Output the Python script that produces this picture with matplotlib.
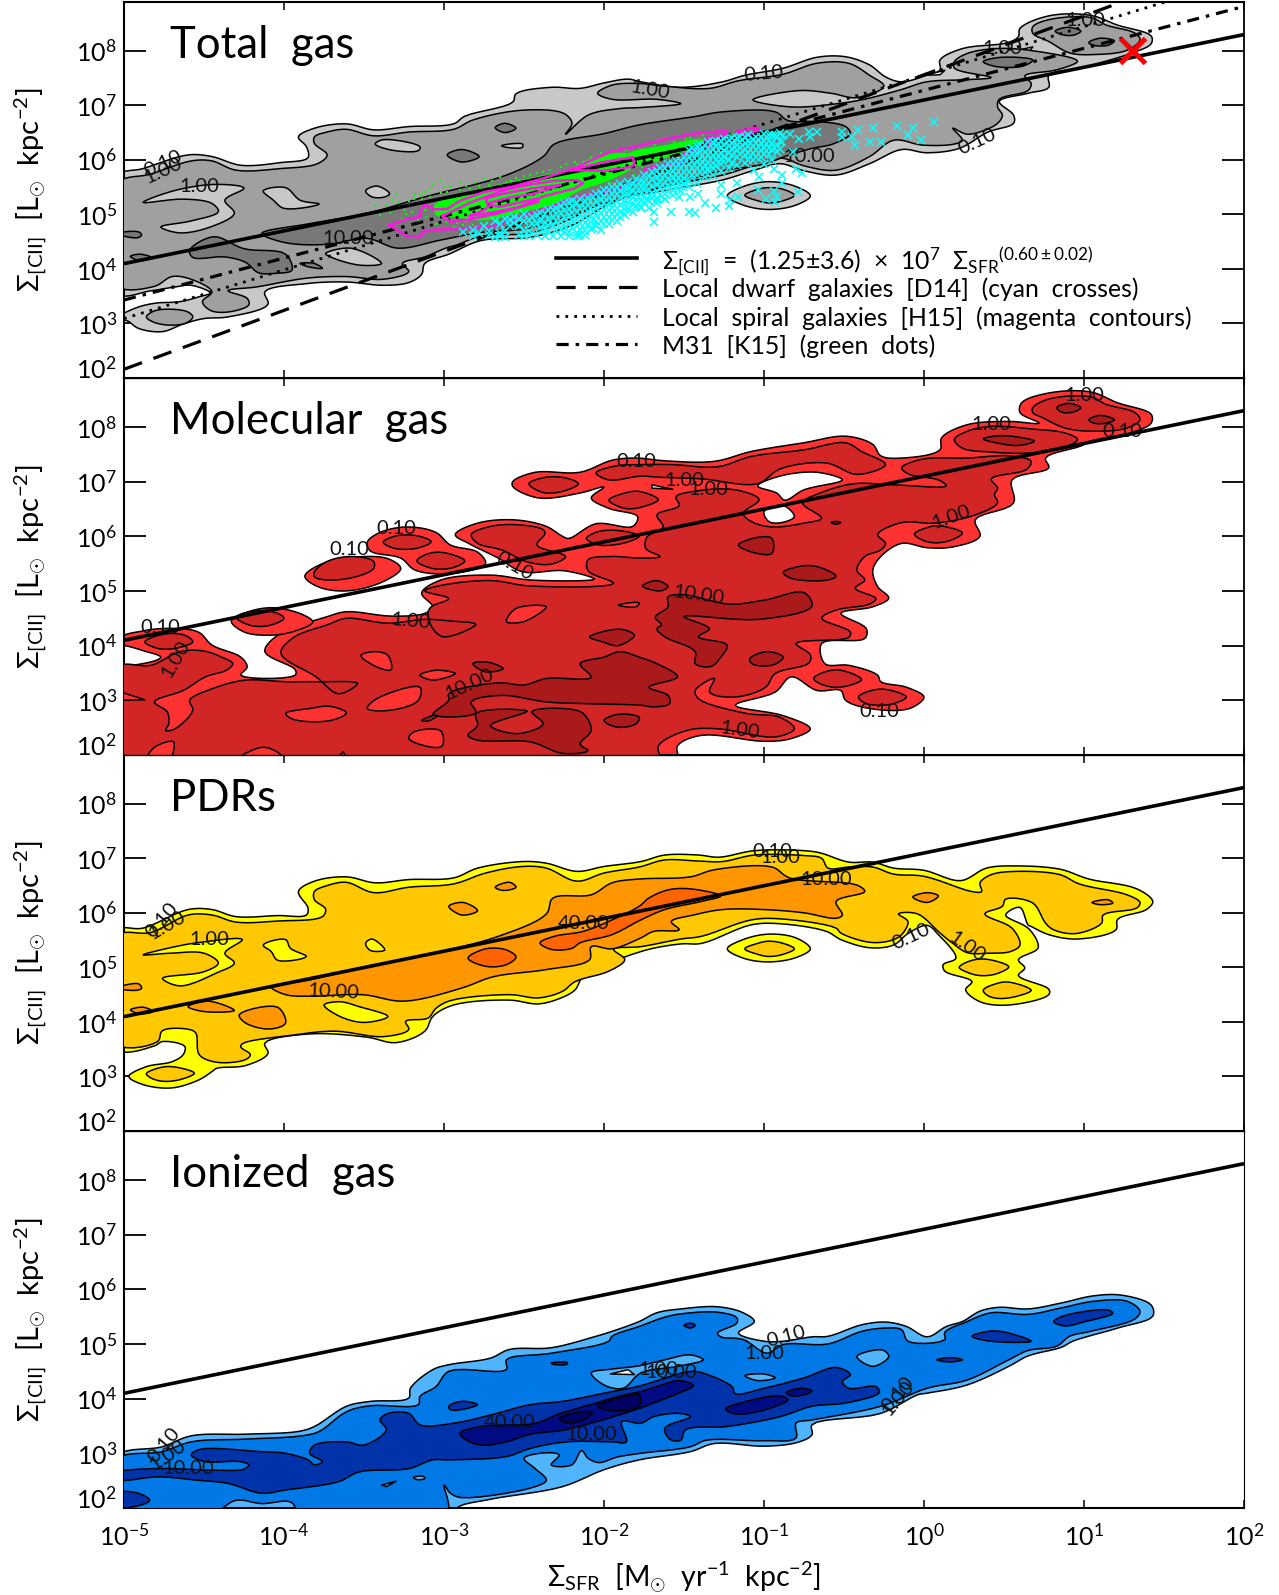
import numpy as np
import matplotlib
matplotlib.use('Agg')
import matplotlib.pyplot as plt

plt.rcParams['font.family'] = ['Lato', 'DejaVu Sans']
plt.rcParams['mathtext.fontset'] = 'custom'
plt.rcParams['mathtext.rm'] = 'Lato'
plt.rcParams['mathtext.it'] = 'Lato'
plt.rcParams['mathtext.bf'] = 'Lato'
plt.rcParams['mathtext.default'] = 'rm'

# ---------- shared values ----------
XLIM_LOG = (-5, 2)
YLIM_LOG = (2.0, 8.894)
X_DECADES = [-5, -4, -3, -2, -1, 0, 1, 2]
Y_DECADES = [3, 4, 5, 6, 7, 8]
FIT_NORM_LOG = 7.097
FIT_SLOPE = 0.60
DWARF = (2.16, 1.08)    # value at 1e-5, slope
SPIRAL = (3.09, 0.892)
M31 = (3.43, 0.769)
RED_CROSS = (1.30, 8.01)

TOTAL_COLORS = ['#c8c8c8', '#a0a0a0', '#787878']
MOL_COLORS = ['#ff3232', '#d22626', '#aa1a1a']
PDR_COLORS = ['#ffff00', '#ffc800', '#ff9600', '#ff6400']
ION_COLORS = ['#50b4ff', '#0078e6', '#0032aa', '#000a82', '#000064']

# ---------- Total gas contours: log10 SFR, log10 CII ----------
TOTAL_L0 = [
 [(-5.05,5.69),(-4.88,5.84),(-4.6,6.09),(-4.45,6.06),(-4.27,5.9),(-4.02,5.95),(-3.85,6.04),(-3.86,6.24),(-3.91,6.42),(-3.81,6.58),(-3.61,6.66),(-3.44,6.55),(-3.22,6.61),(-2.94,6.66),(-2.87,6.8),(-2.57,7.06),(-2.55,7.21),(-2.33,7.33),(-2.15,7.31),(-2,7.41),(-1.85,7.48),(-1.77,7.43),(-1.52,7.33),(-1.26,7.43),(-1.12,7.55),(-.88,7.68),(-.67,7.88),(-.49,7.89),(-.34,7.74),(-.24,7.52),(-.14,7.43),(.015,7.55),(.10,7.65),(.10,7.83),(.24,8.04),(.525,8.15),(.59,8.26),(.6,8.41),(.78,8.64),(1.04,8.65),(1.21,8.47),(1.42,8.27),(1.42,8.13),(1.29,7.95),(1.09,7.77),(.98,7.68),(.78,7.55),(.78,7.33),(.65,7.22),(.47,7.07),(.56,6.82),(.56,6.67),(.4,6.51),(.22,6.21),(.015,6.13),(-.14,6.19),(-.34,5.93),(-.55,5.72),(-.75,5.8),(-.9,5.93),(-1.06,5.81),(-1.26,5.63),(-1.52,5.49),(-1.69,5.4),(-1.85,5.32),(-2,5.14),(-2.2,4.8),(-2.46,4.58),(-2.77,4.52),(-2.97,4.27),(-3.12,4.1),(-3.14,3.9),(-3.22,3.75),(-3.38,3.7),(-3.61,3.76),(-3.86,3.73),(-4.12,3.58),(-4.1,3.35),(-4.35,3.12),(-4.5,3.09),(-4.63,2.99),(-4.76,2.85),(-4.91,2.91),(-4.98,3.05),(-5.05,3.09),(-4.93,3.28),(-4.81,3.37),(-4.65,3.4),(-4.53,3.49),(-4.46,3.56),(-4.58,3.7),(-4.68,3.67),(-4.83,3.6),(-5.05,3.55)],
 [(-1.23,5.34),(-1.13,5.51),(-.97,5.6),(-.8,5.51),(-.71,5.34),(-.8,5.17),(-.97,5.09),(-1.13,5.17)],
]
TOTAL_L1 = [
 [(-5.05,5.55),(-4.83,5.74),(-4.58,5.98),(-4.45,5.98),(-4.3,5.81),(-4.02,5.84),(-3.79,5.93),(-3.73,6.09),(-3.81,6.3),(-3.81,6.42),(-3.73,6.51),(-3.61,6.56),(-3.44,6.44),(-3.22,6.51),(-2.94,6.56),(-2.82,6.73),(-2.51,6.91),(-2.25,6.85),(-2.2,6.67),(-2.24,6.47),(-2.1,6.82),(-1.9,6.94),(-1.77,6.96),(-1.52,7.03),(-1.67,7.11),(-1.95,7.11),(-2.04,7.22),(-1.95,7.37),(-1.78,7.4),(-1.62,7.35),(-1.34,7.31),(-1.16,7.45),(-.88,7.57),(-.67,7.77),(-.47,7.77),(-.34,7.55),(-.25,7.35),(-.42,7.14),(-.58,7.22),(-.78,7.27),(-1.07,7.1),(-.83,6.97),(-.57,7.02),(-.39,7.1),(-.14,7.29),(.015,7.43),(.27,7.47),(.42,7.51),(.19,7.68),(.19,7.8),(.27,7.95),(.45,8.04),(.68,8.0),(.96,7.81),(.83,7.65),(.63,7.54),(.67,7.4),(.65,7.27),(.47,7.11),(.46,6.97),(.49,6.82),(.47,6.7),(.41,6.58),(.27,6.47),(.18,6.58),(.24,6.36),(.19,6.29),(-.01,6.27),(-.19,6.36),(-.34,6.06),(-.55,5.81),(-.75,5.89),(-.89,6.03),(-1.06,5.9),(-1.26,5.72),(-1.52,5.58),(-1.69,5.49),(-1.85,5.41),(-2,5.26),(-2.2,4.93),(-2.46,4.66),(-2.77,4.6),(-2.92,4.44),(-2.99,4.38),(-3.12,4.22),(-3.26,4.1),(-3.22,3.95),(-3.38,3.81),(-3.61,3.86),(-3.86,3.83),(-4.17,3.67),(-4.35,3.6),(-4.23,3.46),(-4.22,3.34),(-4.35,3.21),(-4.46,3.24),(-4.51,3.4),(-4.45,3.58),(-4.58,3.81),(-4.7,3.86),(-4.81,3.68),(-5.05,3.7)],
 [(.68,8.44),(.78,8.57),(1.04,8.61),(1.14,8.47),(1.32,8.32),(1.35,8.2),(1.27,8.01),(1.06,7.93),(.91,7.96),(.78,8.17),(.68,8.32)],
 [(-4.86,3.12),(-4.81,3.23),(-4.7,3.26),(-4.6,3.21),(-4.57,3.12),(-4.61,3.01),(-4.72,2.97),(-4.82,3.03)],
 [(-1.12,5.35),(-1.04,5.46),(-.97,5.49),(-.88,5.46),(-.81,5.35),(-.88,5.25),(-.97,5.21),(-1.04,5.25)],
]
TOTAL_HOLES = [
 [(-4.88,5.22),(-4.68,5.44),(-4.42,5.55),(-4.25,5.48),(-4.37,5.26),(-4.31,5.02),(-4.45,4.78),(-4.65,4.66),(-4.77,4.77),(-4.58,4.88),(-4.41,5.05),(-4.45,5.2),(-4.63,5.28)],
 [(-4.13,5.43),(-3.99,5.49),(-3.9,5.26),(-3.78,5.19),(-4,5.11),(-4.07,5.27)],
 [(-3.49,5.43),(-3.42,5.52),(-3.34,5.38),(-3.37,5.32),(-3.45,5.32)],
 [(-3.43,6.29),(-3.38,6.37),(-3.15,6.24),(-3.16,6.17),(-3.33,6.18)],
 [(-2.64,6.26),(-2.51,6.29),(-2.51,6.23),(-2.61,6.23)],
 [(-3.74,4.28),(-3.58,4.38),(-3.39,4.1),(-3.53,4.07),(-3.71,4.22)],
]
TOTAL_L2 = [
 [(-4.14,4.65),(-3.84,4.83),(-3.48,5.02),(-3.12,5.32),(-2.61,5.72),(-2.38,6.06),(-2.31,6.29),(-2,6.48),(-1.78,6.64),(-1.44,6.79),(-1.26,6.88),(-.93,6.88),(-.85,6.72),(-.65,6.7),(-.49,6.61),(-.46,6.48),(-.57,6.29),(-.7,6.21),(-.86,6.07),(-1.0,5.92),(-1.26,5.8),(-1.44,5.66),(-1.62,5.51),(-2,5.2),(-2.2,4.99),(-2.48,4.74),(-2.77,4.67),(-3.02,4.53),(-3.29,4.38),(-3.48,4.56),(-3.73,4.45),(-3.99,4.48)],
 [(-4.59,4.34),(-4.44,4.59),(-4.25,4.37),(-3.99,4.27),(-3.95,3.98),(-4.05,3.92),(-4.16,3.93),(-4.24,4.12),(-4.37,4.22),(-4.57,4.21)],
 [(-5.05,4.65),(-4.91,4.68),(-4.89,4.62),(-4.92,4.57)],
 [(-2.68,6.59),(-2.62,6.67),(-2.55,6.58),(-2.62,6.5)],
 [(-2.98,6.09),(-2.89,6.19),(-2.78,6.06),(-2.89,5.96)],
 [(-4.96,4.23),(-4.9,4.27),(-4.83,4.21),(-4.9,4.15)],
 [(-3.9,4.1),(-3.81,4.1),(-3.76,4.01),(-3.85,4.04)],
 [(.82,8.36),(.9,8.43),(.98,8.36),(.94,8.29),(.87,8.29)],
 [(1.03,8.15),(1.1,8.23),(1.19,8.18),(1.15,8.1),(1.06,8.1)],
 [(.37,7.8),(.48,7.88),(.68,7.83),(.62,7.72),(.45,7.71)],
]
TOTAL_WHITE = [
 [(.0,7.55),(.13,7.64),(.1,7.56)],
 [(.6,8.02),(.68,8.07),(.66,8.0)],
]
TOTAL_LABELS = [('0.10',-4.755,5.93,25),('1.00',-4.755,5.81,25),('1.00',-4.53,5.51,0),('10.00',-3.6,4.56,0),
 ('0.10',-1.0,7.58,5),('1.00',-1.71,7.28,-10),('1.00',1.01,8.56,0),('1.00',.49,8.04,0),('10.00',-.72,6.07,0),('0.10',.33,6.33,25)]

# ---------- observational samples on the Total gas panel ----------
GREEN_BAND = [(-3.06,5.17),(-2.86,5.41),(-2.63,5.57),(-2.38,5.72),(-2.21,5.84),(-2.09,6.02),(-1.94,6.12),(-1.82,6.09),(-1.81,5.9),(-1.96,5.63),(-2.15,5.44),(-2.3,5.2),(-2.55,5.02),(-2.75,4.89),(-2.94,4.95),(-3.05,4.99)]
GREEN_BAND2 = [(-1.85,6.1),(-1.6,6.28),(-1.4,6.38),(-1.3,6.3),(-1.55,6.1),(-1.8,5.9)]
GREEN_DOTS = [(-3.02,5.63),(-3.07,5.54),(-3.0,5.51),(-3.12,5.41),(-3.3,5.38),(-3.32,5.26),(-3.36,5.17),(-3.43,5.17),(-3.38,5.08),(-3.25,5.08),(-3.19,5.29),(-3.15,5.35),(-2.98,5.41),(-2.9,5.6),(-2.81,5.6),(-2.75,5.66),(-2.9,5.44),(-2.84,5.47),(-3.4,4.99),(-3.26,4.92),(-2.94,4.77),(-3.09,5.32),(-3.04,5.29),(-3.21,5.17),(-3.16,5.2),(-3.1,5.44),(-2.96,5.29),(-2.72,5.54),(-2.61,5.6),(-2.55,5.66),(-2.46,5.72),(-2.38,5.78),(-2.27,5.87),(-2.17,5.9),(-2.13,5.96),(-2.82,4.8),(-2.78,4.77),(-2.71,4.8),(-2.59,4.92),(-2.42,5.02),(-2.98,4.86),(-3.11,4.96),(-2.88,4.8),(-1.66,6.36),(-1.49,6.39),(-1.38,6.45),(-1.21,6.48),(-1.13,6.39),(-1.28,6.33),(-1.42,6.3),(-1.59,6.24),(-1.73,6.18),(-1.52,6.15),(-1.63,6.09),(-1.71,6.02),(-1.76,5.87),(-1.81,5.72),(-1.86,5.63),(-1.96,5.57),(-2.0,6.09),(-1.86,6.18),
 (-3.2,5.05),(-3.28,5.12),(-3.34,5.02),(-3.22,5.25),(-3.14,5.28),(-3.08,5.25),(-3.02,5.4),(-2.96,5.5),(-2.92,5.36),(-2.86,5.52),(-2.78,5.52),(-2.7,5.62),(-2.65,5.68),(-2.58,5.62),(-2.5,5.7),(-2.42,5.76),(-2.34,5.82),(-2.24,5.92),(-2.18,5.96),(-2.08,6.05),(-2.02,6.12),(-1.92,6.2),(-1.78,6.24),(-1.68,6.28),(-1.56,6.32),(-1.46,6.4),(-1.34,6.38),(-3.12,5.08),(-3.16,4.9),(-3.05,4.82),(-2.92,4.85),(-2.86,4.88),(-2.74,4.84),(-2.66,4.88),(-2.5,4.96),(-3.06,5.08),(-3.02,5.2),(-2.96,5.15),(-2.9,5.18),(-2.99,5.03),(-3.24,5.0),(-3.29,5.22),(-3.18,5.38)]
MAGENTA_OUTER = [(-3.34,4.8),(-3.23,4.92),(-3.15,4.95),(-3.15,5.05),(-3.12,5.17),(-3.08,5.14),(-3.07,5.09),(-2.98,5.1),(-2.9,5.25),(-2.75,5.41),(-2.57,5.51),(-2.38,5.66),(-2.19,5.84),(-2.09,5.98),(-1.94,6.17),(-1.8,6.24),(-1.63,6.37),(-1.44,6.48),(-1.23,6.53),(-1.24,6.45),(-1.34,6.42),(-1.37,6.36),(-1.3,6.3),(-1.5,6.12),(-1.5,5.95),(-1.74,5.84),(-1.76,5.66),(-1.94,5.44),(-2.11,5.36),(-2.21,5.29),(-2.3,5.17),(-2.48,5.0),(-2.55,4.92),(-2.67,4.8),(-2.86,4.74),(-3.05,4.72),(-3.13,4.68),(-3.15,4.58),(-3.23,4.6)]
MAGENTA_MID = [(-3.01,4.97),(-2.84,5.21),(-2.63,5.44),(-2.48,5.54),(-2.3,5.62),(-2.17,5.63),(-2.13,5.57),(-2.19,5.47),(-2.38,5.33),(-2.43,5.26),(-2.55,5.11),(-2.69,5.0),(-2.84,4.91),(-2.96,4.86)]
MAGENTA_IN1 = [(-2.74,5.29),(-2.63,5.38),(-2.46,5.47),(-2.27,5.54),(-2.44,5.38),(-2.59,5.31),(-2.73,5.2)]
MAGENTA_IN2 = [(-2.84,4.97),(-2.75,5.08),(-2.71,5.17),(-2.65,5.14),(-2.42,5.29),(-2.41,5.23),(-2.52,5.14),(-2.67,5.05)]
MAGENTA_IN3 = [(-2.21,5.81),(-2.0,5.96),(-1.82,6.05),(-1.81,5.93),(-1.83,5.87),(-2.0,5.8)]
MAGENTA_IN4 = [(-1.17,6.51),(-1.07,6.59),(-1.03,6.57),(-1.1,6.45)]
MAGENTA_SETS = [MAGENTA_OUTER, MAGENTA_MID, MAGENTA_IN1, MAGENTA_IN2, MAGENTA_IN3, MAGENTA_IN4]

CYAN_COLUMNS = [(-2.88,[4.68]),(-2.78,[4.65]),(-2.72,[4.7,4.62]),(-2.68,[4.88,4.58]),(-2.62,[4.92,4.58,4.69]),(-2.56,[4.95,4.85]),
 (-2.5,[4.88,5.0,4.72,4.6]),(-2.45,[4.95,4.82]),(-2.4,[5.02,4.88,4.75]),(-2.35,[5.08,4.92,4.8,4.7]),(-2.3,[5.12,5.0,4.88,4.72]),
 (-2.25,[5.2,5.08,4.95,4.8,4.68]),(-2.2,[5.25,5.15,5.02,4.9,4.75]),(-2.15,[5.28,5.12,4.98,4.85,4.72]),(-2.1,[5.3,5.18,5.05,4.92,4.8]),
 (-2.05,[5.38,5.25,5.12,5.0,4.88,4.78]),(-2.0,[5.45,5.32,5.2,5.08,4.95,4.82]),(-1.95,[5.5,5.38,5.25,5.12,5.0,4.9]),
 (-1.9,[5.55,5.42,5.3,5.18,5.05,4.95]),(-1.85,[5.6,5.48,5.35,5.22,5.1]),(-1.8,[5.65,5.52,5.4,5.28,5.15]),
 (-1.75,[5.72,5.6,5.48,5.35,5.22]),(-1.7,[5.78,5.65,5.52,5.4,5.3]),(-1.65,[5.85,5.72,5.6,5.48,5.35]),
 (-1.6,[5.92,5.78,5.65,5.52,5.42]),(-1.55,[5.98,5.85,5.72,5.6,5.48]),(-1.5,[6.05,5.92,5.78,5.65,5.55]),
 (-1.45,[6.22,6.1,5.98,5.85,5.72]),(-1.4,[6.28,6.15,6.02,5.9,5.78]),(-1.35,[6.32,6.2,6.08,5.95,5.82]),(-1.3,[6.35,6.25,6.12,6.0,5.88]),
 (-1.25,[6.38,6.28,6.18,6.05]),(-1.2,[6.4,6.3,6.2,6.08,5.95]),(-1.15,[6.42,6.32,6.22,6.1]),(-1.1,[6.45,6.35,6.25,6.12,6.0]),
 (-1.05,[6.42,6.3,6.18,6.05]),(-1.0,[6.48,6.35,6.22,6.1]),(-.95,[6.45,6.3,6.18]),(-.9,[6.5,6.35,6.2])]
CYAN_COLUMNS2 = [(-2.82,[4.72,4.6]),(-2.75,[4.78]),(-2.65,[4.66,4.82,4.6]),(-2.59,[4.78,4.9]),(-2.53,[4.62,4.78,4.92]),(-2.47,[4.7,4.6,4.9]),(-2.42,[4.62,4.85,4.98]),(-2.37,[4.6,4.72,4.85,5.0]),(-2.32,[4.6,4.78,4.95,5.08]),(-2.27,[4.6,4.72,4.88,5.02,5.15]),(-2.22,[4.6,4.68,4.82,4.98,5.1,5.22]),(-2.17,[4.6,4.65,4.78,4.92,5.05,5.2]),(-2.12,[4.62,4.7,4.85,4.98,5.12,5.25]),(-2.07,[4.75,4.9,5.05,5.18,5.32]),(-2.02,[4.72,4.88,5.02,5.15,5.28,5.4]),(-1.97,[4.82,4.95,5.08,5.2,5.32,5.45]),(-1.92,[4.88,5.0,5.12,5.25,5.38,5.5]),(-1.87,[4.98,5.1,5.22,5.35,5.48]),
 (-1.82,[5.05,5.18,5.3,5.42,5.55]),(-1.77,[5.12,5.25,5.38,5.5,5.62]),(-1.72,[5.12,5.25,5.35,5.45,5.58,5.7]),(-1.67,[5.2,5.3,5.42,5.55,5.68,5.8]),(-1.62,[5.28,5.38,5.48,5.6,5.72,5.85]),(-1.57,[5.35,5.45,5.55,5.68,5.8,5.92]),(-1.52,[5.42,5.52,5.62,5.72,5.85,5.98]),(-1.47,[5.5,5.62,5.78,5.92,6.05,6.18]),(-1.42,[5.58,5.72,5.85,5.98,6.12,6.25]),(-1.37,[5.68,5.78,5.9,6.02,6.15,6.28]),(-1.32,[5.72,5.85,5.95,6.08,6.2,6.32]),(-1.27,[5.8,5.92,6.02,6.12,6.22,6.35]),(-1.22,[5.85,6.0,6.12,6.25,6.36]),(-1.17,[5.9,6.05,6.18,6.28,6.4]),(-1.12,[5.95,6.08,6.2,6.3,6.42]),(-1.07,[6.0,6.12,6.25,6.38]),(-1.02,[6.05,6.18,6.3,6.42]),(-.97,[6.1,6.22,6.35,6.45]),(-.92,[6.15,6.28,6.42])]
CYAN_EXTRA = [(.06,6.69),(-.07,6.58),(-.17,6.62),(-.32,6.59),(-.41,6.55),(-.1,6.45),(-.02,6.36),(-.27,6.33),(-.34,6.33),(-.43,6.27),(-.45,6.42),(-.51,6.51),(-.51,6.42),(-.82,6.15),(-.76,5.75),(-.8,5.84),(-.89,5.72),(-.95,6.0),(-.94,5.84),(-1.0,5.93),(-1.06,5.81),(-1.03,5.69),(-.89,5.57),(-.79,5.41),(-.94,5.43),(-1.04,5.44),(-1.17,5.57),(-1.16,5.32),(-1.21,5.26),(-1.27,5.38),(-1.27,5.53),(-.93,5.23),(-.99,5.29),(-.92,5.32),(-1.41,5.38),(-1.46,5.32),(-1.53,5.32),(-1.37,5.2),(-1.3,5.11),(-1.22,5.15),(-1.43,5.03),(-1.47,5.05),(-1.58,5.04),(-1.69,5.05),(-1.69,4.86),(-1.62,5.29),(-1.67,5.26),(-1.73,5.26),(-1.77,5.14),(-.72,6.51),(-.67,6.51),(-.71,6.42),(-.78,6.39),(-.84,6.48),(-.88,6.45),(-.93,6.45),(-.89,6.33),(-.94,6.24),
 (-2.08,4.73),(-2.15,4.62)]

# ---------- Molecular gas contours ----------
MOL_L0 = [
 [(-5.05,4.07),(-4.88,4.27),(-4.65,4.31),(-4.53,4.24),(-4.45,4.01),(-4.27,3.79),(-4.23,3.61),(-4.27,3.46),(-3.93,3.46),(-3.93,3.56),(-4.12,3.89),(-4.04,4.19),(-3.73,4.53),(-3.61,4.62),(-3.33,4.54),(-3.12,4.59),(-3.07,4.71),(-3.14,4.96),(-3.02,5.2),(-2.71,5.29),(-2.46,5.2),(-2.08,5.2),(-2.06,5.22),(-2.25,5.37),(-2.51,5.35),(-2.66,5.6),(-2.84,5.86),(-2.93,6.03),(-2.79,6.24),(-2.56,6.3),(-2.36,6.18),(-2.26,6.0),(-2.22,5.96),(-2.05,6.23),(-1.82,6.18),(-1.79,6.36),(-1.97,6.51),(-2.08,6.7),(-2,6.9),(-2.15,6.79),(-2.41,6.7),(-2.57,6.91),(-2.57,7.0),(-2.43,7.17),(-2.15,7.17),(-1.95,7.39),(-1.8,7.43),(-1.62,7.38),(-1.31,7.37),(-1.08,7.55),(-.75,7.71),(-.49,7.83),(-.32,7.68),(-.27,7.47),(-.14,7.43),(.1,7.58),(.11,7.8),(.27,8.04),(.53,8.1),(.72,8.07),(.6,8.26),(.61,8.44),(.78,8.62),(1.04,8.64),(1.21,8.44),(1.42,8.23),(1.42,8.07),(1.29,7.89),(1.04,7.74),(.98,7.65),(.76,7.43),(.78,7.25),(.55,7.03),(.56,6.61),(.32,6.3),(.35,6.0),(.19,5.81),(.02,5.79),(-.14,5.87),(-.27,5.63),(-.32,5.38),(-.29,5.08),(-.22,4.87),(-.32,4.71),(-.52,4.59),(-.36,4.31),(-.37,4.13),(-.64,4.04),(-.62,3.67),(-.47,3.64),(-.29,3.46),(-.27,3.34),(-.11,3.24),(0,3.06),(-.09,2.85),(-.34,2.85),(-.49,3.0),(-.52,3.18),(-.67,3.18),(-.83,3.43),(-.93,3.15),(-1.18,2.91),(-.88,2.72),(-.71,2.48),(-.83,2.3),(-1.0,2.25),(-1.39,2.36),(-1.54,2.17),(-1.55,1.9),(-5.05,1.9)],
 [(-4.33,4.45),(-4.2,4.64),(-4.05,4.69),(-3.87,4.55),(-3.82,4.43),(-3.95,4.25),(-4.1,4.19),(-4.25,4.25)],
 [(-3.87,5.27),(-3.76,5.5),(-3.55,5.62),(-3.35,5.59),(-3.27,5.41),(-3.38,5.17),(-3.61,5.0),(-3.79,5.08)],
 [(-3.48,5.89),(-3.4,6.07),(-3.23,6.17),(-3.05,6.07),(-2.96,5.84),(-2.79,5.71),(-2.74,5.5),(-2.95,5.32),(-3.18,5.38),(-3.27,5.6),(-3.46,5.73)],
]
MOL_WHITE = [
 [(-5.05,3.99),(-4.86,3.89),(-4.77,3.79),(-4.81,3.72),(-5.05,3.67)],
 [(-1.04,6.92),(-.9,7.1),(-.67,7.17),(-.51,7.03),(-.75,6.85),(-.87,6.66),(-.92,6.79)],
 [(-1.0,6.45),(-.88,6.56),(-.81,6.36),(-.89,6.25),(-.97,6.27)],
 [(-1.7,6.94),(-1.57,6.86),(-1.7,6.88)],
]
MOL_L1 = [
 [(-5.05,3.6),(-4.83,3.64),(-4.65,3.89),(-4.5,3.9),(-4.39,3.79),(-4.32,3.67),(-4.36,3.55),(-4.49,3.43),(-4.63,3.18),(-4.81,2.97),(-4.73,2.79),(-4.72,2.57),(-4.74,2.45),(-4.68,2.48),(-4.57,2.82),(-4.59,3.0),(-4.45,3.21),(-4.24,3.37),(-3.99,3.34),(-3.79,3.34),(-3.54,3.31),(-3.66,3.12),(-3.8,3.43),(-4.02,3.86),(-3.94,4.15),(-3.73,4.38),(-3.61,4.5),(-3.35,4.41),(-3.12,4.48),(-2.96,4.45),(-2.8,4.39),(-3.0,4.16),(-3.07,4.31),(-3.1,4.59),(-3.08,4.71),(-2.97,4.86),(-3.12,5.0),(-3.02,5.1),(-2.71,5.19),(-2.46,5.09),(-1.94,5.14),(-2.1,5.37),(-2.1,5.57),(-1.95,5.63),(-1.77,5.6),(-1.65,5.63),(-1.74,5.78),(-1.73,5.99),(-1.63,6.17),(-1.67,6.39),(-1.53,6.56),(-1.55,6.72),(-1.44,6.82),(-1.18,6.85),(-1.03,6.67),(-1.13,6.42),(-1.08,6.27),(-.95,6.17),(-.75,6.24),(-.64,6.33),(-.76,6.61),(-.65,6.79),(-.44,6.96),(-.19,6.94),(.14,6.92),(.09,7.03),(-.09,7.13),(-.14,7.25),(-.01,7.41),(.27,7.43),(.53,7.47),(.67,7.37),(.64,7.22),(.42,7.05),(.46,6.88),(.44,6.76),(.46,6.61),(.32,6.39),(.07,6.24),(-.14,6.25),(-.29,6.03),(-.24,5.87),(-.27,5.75),(-.37,5.63),(-.42,5.38),(-.37,5.2),(-.43,5.05),(-.3,4.86),(-.34,4.76),(-.55,4.65),(-.64,4.5),(-.46,4.25),(-.47,4.15),(-.8,4.04),(-.71,3.83),(-.72,3.68),(-.93,3.49),(-.99,3.24),(-1.18,3.06),(-1.34,3.15),(-1.31,3.4),(-1.43,3.18),(-1.41,3.03),(-1.11,2.76),(-.9,2.69),(-.81,2.48),(-.93,2.33),(-1.29,2.48),(-1.48,2.45),(-1.66,2.17),(-1.66,1.9),(-5.05,1.9)],
 [(.19,7.77),(.27,7.92),(.42,8.01),(.68,7.96),(.88,7.89),(.96,7.77),(.86,7.61),(.65,7.52),(.42,7.54),(.24,7.61)],
 [(.68,8.35),(.78,8.51),(1.04,8.55),(1.14,8.41),(1.32,8.26),(1.35,8.13),(1.27,7.98),(1.06,7.92),(.88,7.98),(.74,8.17),(.68,8.26)],
 [(-.06,6.04),(.02,6.16),(.1,6.19),(.24,6.06),(.17,5.93),(.07,5.88),(-.01,5.93)],
 [(-.69,3.4),(-.62,3.52),(-.52,3.55),(-.39,3.38),(-.47,3.27),(-.57,3.24),(-.66,3.32)],
 [(-.41,3.06),(-.34,3.17),(-.24,3.2),(-.11,3.06),(-.19,2.94),(-.29,2.91),(-.37,2.95)],
 [(-4.3,4.52),(-4.17,4.64),(-4.04,4.59),(-4.0,4.5),(-4.09,4.37),(-4.21,4.37)],
 [(-4.87,4.07),(-4.75,4.21),(-4.62,4.19),(-4.57,4.07),(-4.68,3.95),(-4.79,3.95)],
 [(-3.81,5.35),(-3.73,5.54),(-3.58,5.63),(-3.44,5.54),(-3.44,5.41),(-3.55,5.26),(-3.73,5.2),(-3.81,5.26)],
 [(-3.38,5.89),(-3.31,6.0),(-3.17,6.01),(-3.08,5.9),(-3.17,5.78),(-3.31,5.78)],
 [(-3.17,5.55),(-3.1,5.68),(-3.0,5.7),(-2.87,5.55),(-2.94,5.43),(-3.07,5.41)],
 [(-2.83,6.03),(-2.71,6.18),(-2.54,6.21),(-2.38,6.12),(-2.37,6.04),(-2.42,5.84),(-2.24,5.63),(-2.33,5.49),(-2.48,5.53),(-2.64,5.75),(-2.79,5.87)],
 [(-2.47,6.96),(-2.36,7.08),(-2.23,7.06),(-2.16,6.96),(-2.26,6.82),(-2.38,6.8)],
 [(-2.11,5.96),(-2.03,6.09),(-1.87,6.09),(-1.78,6.0),(-1.87,5.88),(-2.03,5.84)],
 [(-1.97,6.66),(-1.87,6.79),(-1.78,6.82),(-1.66,6.67),(-1.77,6.53),(-1.87,6.51)],
 [(-2.05,7.16),(-1.92,7.29),(-1.77,7.31),(-1.57,7.31),(-1.29,7.27),(-1.08,7.46),(-.75,7.58),(-.49,7.71),(-.39,7.55),(-.24,7.31),(-.42,7.13),(-.61,7.34),(-.9,7.23),(-1.04,6.96),(-1.39,7.05),(-1.66,7.08),(-1.77,7.1),(-1.97,7.03)],
]
MOL_HOLES = [
 [(-3.52,3.82),(-3.43,3.89),(-3.35,3.82),(-3.33,3.56),(-3.42,3.61)],
 [(-3.15,3.46),(-3.05,3.55),(-2.93,3.49),(-3.07,3.37)],
 [(-3.48,2.85),(-3.42,3.03),(-3.15,3.24),(-3.16,3.0),(-3.33,2.82)],
 [(-3.99,2.76),(-3.84,2.85),(-3.71,2.89),(-3.61,2.77),(-3.71,2.63),(-3.94,2.65)],
 [(-3.22,2.3),(-3.19,2.42),(-3.02,2.44),(-3.01,2.17),(-3.07,2.14)],
 [(-2.61,4.44),(-2.55,4.68),(-2.36,4.71),(-2.5,4.44)],
 [(-1.91,4.74),(-1.85,4.78),(-1.78,4.78),(-1.8,4.71)],
 [(-4.86,1.9),(-4.81,2.14),(-4.69,2.24),(-4.72,1.9)],
 [(-4.3,1.9),(-4.14,2.14),(-4.04,2.05),(-4.0,1.9)],
 [(-3.68,1.9),(-3.63,2.06),(-3.6,1.9)],
 [(-5.05,3.18),(-4.87,3.01),(-5.05,3.0)],
]
MOL_L2 = [
 [(-3.07,2.74),(-2.97,3.0),(-2.97,3.12),(-2.66,3.32),(-2.5,3.28),(-2.36,3.4),(-2.08,3.42),(-2.15,3.67),(-2,3.79),(-1.9,3.89),(-1.78,3.79),(-1.67,3.67),(-1.54,3.43),(-1.72,3.24),(-1.6,3.09),(-1.59,2.94),(-1.69,2.88),(-1.77,2.91),(-2.13,2.94),(-2.36,2.97),(-2.64,3.09),(-2.83,2.97),(-2.8,2.77)],
 [(-2.8,2.76),(-2.48,2.8),(-2.71,2.54),(-2.54,2.39),(-2.38,2.57),(-2.45,2.79),(-2.26,2.85),(-2.13,2.76),(-2.08,2.45),(-2.15,2.2),(-2.1,2.08),(-2.26,2.03),(-2.46,2.24),(-2.79,2.27),(-2.85,2.36),(-2.79,2.54)],
 [(-3.14,2.63),(-3.07,2.72),(-3.04,2.72),(-3.1,2.62)],
 [(-2.82,3.67),(-2.73,3.7),(-2.63,3.58),(-2.74,3.52)],
 [(-2.09,4.16),(-1.9,4.3),(-1.81,4.19),(-1.91,4.0),(-2.01,4.07)],
 [(-1.16,5.84),(-1.04,5.98),(-.95,5.96),(-.95,5.69),(-1.05,5.69)],
 [(-.88,5.34),(-.75,5.46),(-.65,5.43),(-.55,5.27),(-.6,5.2),(-.83,5.23)],
 [(-1.76,5.09),(-1.67,5.19),(-1.6,5.08),(-1.65,5.0)],
 [(-1.09,3.76),(-.98,3.89),(-.88,3.79),(-.94,3.65),(-1.07,3.66)],
 [(.37,7.78),(.49,7.84),(.69,7.74),(.59,7.66),(.45,7.71)],
 [(.83,8.35),(.9,8.43),(.98,8.35),(.93,8.27),(.86,8.27)],
 [(1.03,8.13),(1.1,8.21),(1.19,8.13),(1.14,8.07),(1.06,8.07)],
 [(-1.6,4.89),(-1.5,4.93),(-1.22,4.76),(-1.0,4.83),(-.75,4.97),(-.7,4.72),(-1.03,4.48),(-1.5,4.53),(-1.34,4.31),(-1.41,4.16),(-1.23,4.01),(-1.27,3.79),(-1.33,3.62),(-1.43,3.67),(-1.43,3.89),(-1.62,4.16),(-1.67,4.31),(-1.64,4.38),(-1.68,4.52),(-1.6,4.71)],
 [(-2,2.63),(-1.92,2.74),(-1.78,2.69),(-1.8,2.57),(-1.92,2.51)],
 [(-.58,6.25),(-.55,6.27),(-.52,6.25),(-.55,6.22)],
]
MOL_LABELS = [('0.10',-4.77,4.34,0),('1.00',-4.68,3.75,60),('0.10',-3.59,5.75,0),('0.10',-3.3,6.15,0),('0.10',-2.56,5.46,-30),
 ('1.00',-3.21,4.45,-5),('10.00',-2.84,3.29,25),('0.10',-1.8,7.37,0),('1.00',-1.5,7.02,0),('1.00',-1.35,6.86,0),('1.00',1.0,8.57,0),
 ('1.00',.42,8.04,0),('0.10',1.24,7.92,0),('1.00',.17,6.36,20),('10.00',-1.41,4.93,-8),('1.00',-1.15,2.45,-8),('0.10',-.28,2.79,0)]

# ---------- PDR contours ----------
PDR_L0 = [
 [(-5.05,5.67),(-4.88,5.72),(-4.6,6.06),(-4.45,6.06),(-4.3,5.93),(-4.04,5.95),(-3.86,5.96),(-3.85,6.09),(-3.91,6.39),(-3.81,6.58),(-3.61,6.66),(-3.43,6.55),(-3.22,6.61),(-2.94,6.64),(-2.79,6.82),(-2.51,6.94),(-2.36,6.91),(-2.17,6.76),(-2,6.85),(-1.77,6.94),(-1.62,7.06),(-1.41,7.06),(-1.28,7.02),(-1.06,7.14),(-.75,7.14),(-.65,7.1),(-.47,6.93),(-.32,6.93),(-.19,6.82),(0,6.78),(.23,6.59),(.39,6.82),(.57,6.86),(.85,6.8),(1.03,6.62),(1.33,6.44),(1.43,6.21),(1.39,6.06),(1.21,5.88),(1.2,5.69),(.96,5.52),(.78,5.6),(.67,5.75),(.65,5.78),(.6,6.1),(.51,5.96),(.65,5.72),(.71,5.46),(.71,5.34),(.59,5.14),(.63,4.99),(.59,4.85),(.78,4.6),(.78,4.5),(.53,4.31),(.35,4.37),(.26,4.59),(.3,4.74),(.13,4.93),(.12,5.05),(.2,5.17),(.09,5.6),(.02,5.77),(-.1,5.62),(-.19,5.41),(-.34,5.36),(-.52,5.51),(-.61,5.66),(-.9,5.8),(-1.08,5.78),(-1.39,5.44),(-1.52,5.43),(-1.77,5.29),(-2.13,4.83),(-2.18,4.59),(-2.26,4.45),(-2.41,4.33),(-2.59,4.4),(-2.94,4.31),(-3.07,4.1),(-3.12,3.83),(-3.3,3.62),(-3.48,3.72),(-3.84,3.78),(-4.12,3.61),(-4.1,3.42),(-4.24,3.2),(-4.42,3.15),(-4.45,3.09),(-4.53,2.94),(-4.7,2.79),(-4.88,2.85),(-4.97,3.0),(-4.86,3.18),(-4.7,3.27),(-4.63,3.4),(-4.62,3.55),(-4.76,3.64),(-4.81,3.56),(-5.05,3.5)],
 [(-1.23,5.34),(-1.13,5.51),(-.97,5.61),(-.8,5.54),(-.71,5.34),(-.8,5.18),(-.97,5.1),(-1.13,5.17)],
]
PDR_L1 = [
 [(-5.05,5.57),(-4.83,5.64),(-4.6,5.96),(-4.45,5.96),(-4.3,5.83),(-4.04,5.85),(-3.76,5.93),(-3.74,6.07),(-3.81,6.24),(-3.81,6.39),(-3.73,6.5),(-3.61,6.56),(-3.44,6.37),(-3.22,6.47),(-2.94,6.53),(-2.74,6.73),(-2.51,6.85),(-2.36,6.82),(-2.17,6.58),(-2,6.73),(-1.78,6.84),(-1.62,6.97),(-1.41,6.95),(-1.26,6.94),(-1.06,7.06),(-.75,7.05),(-.64,7.0),(-.6,6.82),(-.47,6.84),(-.32,6.84),(-.19,6.71),(0,6.67),(.3,6.39),(.36,6.39),(.35,6.55),(.42,6.7),(.58,6.76),(.85,6.7),(.97,6.53),(1.27,6.33),(1.35,6.19),(1.33,6.09),(1.12,5.96),(1.11,5.81),(.95,5.62),(.81,5.69),(.76,5.81),(.68,6.18),(.51,6.25),(.49,6.12),(.38,5.98),(.55,5.72),(.6,5.41),(.54,5.29),(.41,5.26),(.27,5.27),(.18,5.44),(.1,5.63),(-.04,5.98),(-.16,5.98),(-.1,5.84),(-.14,5.6),(-.21,5.49),(-.34,5.46),(-.52,5.63),(-.55,5.72),(-.9,5.89),(-1.08,5.87),(-1.39,5.57),(-1.52,5.52),(-1.77,5.38),(-1.94,5.33),(-1.87,5.14),(-1.97,4.93),(-2.18,4.74),(-2.26,4.56),(-2.41,4.44),(-2.59,4.5),(-2.96,4.39),(-3.05,4.25),(-3.1,4.07),(-3.24,4.01),(-3.22,3.86),(-3.38,3.73),(-3.68,3.83),(-3.94,3.76),(-4.26,3.6),(-4.27,3.54),(-4.21,3.4),(-4.24,3.31),(-4.42,3.26),(-4.53,3.4),(-4.55,3.79),(-4.59,3.86),(-4.76,3.84),(-4.79,3.64),(-5.05,3.6)],
 [(-4.86,3.05),(-4.79,3.15),(-4.7,3.18),(-4.56,3.06),(-4.64,2.95),(-4.75,2.91),(-4.83,2.97)],
 [(-1.12,5.34),(-1.04,5.44),(-.97,5.48),(-.88,5.44),(-.81,5.34),(-.88,5.24),(-.97,5.2),(-1.04,5.24)],
 [(.22,5.0),(.29,5.12),(.39,5.15),(.53,5.01),(.45,4.88),(.35,4.85),(.27,4.91)],
 [(.37,4.58),(.45,4.7),(.53,4.73),(.67,4.58),(.58,4.47),(.47,4.43),(.4,4.48)],
]
PDR_HOLES = [
 [(-4.88,5.23),(-4.68,5.38),(-4.52,5.46),(-4.26,5.51),(-4.37,5.26),(-4.31,5.08),(-4.42,4.9),(-4.65,4.66),(-4.76,4.8),(-4.5,4.92),(-4.41,5.08),(-4.5,5.26),(-4.71,5.26)],
 [(-4.13,5.41),(-3.99,5.51),(-3.96,5.35),(-3.86,5.2),(-4.04,5.13),(-4.08,5.29)],
 [(-3.49,5.44),(-3.45,5.52),(-3.37,5.32),(-3.46,5.31)],
 [(-3.75,4.31),(-3.65,4.37),(-3.53,4.28),(-3.35,4.1),(-3.5,3.99),(-3.65,4.1)],
]
PDR_L2 = [
 [(-4.08,4.64),(-3.84,4.77),(-3.48,5.02),(-3.07,5.26),(-2.66,5.57),(-2.36,5.98),(-2.32,6.27),(-2.08,6.33),(-1.95,6.55),(-1.78,6.62),(-1.46,6.66),(-1.31,6.79),(-.95,6.84),(-.84,6.64),(-.42,6.51),(-.37,6.39),(-.55,6.21),(-.51,5.96),(-.55,5.9),(-.75,6.0),(-1.0,6.06),(-1.26,6.06),(-1.44,5.96),(-1.58,5.84),(-1.53,5.69),(-1.69,5.66),(-1.77,5.54),(-1.95,5.34),(-2.08,5.38),(-2.09,5.14),(-2.36,4.96),(-2.69,4.83),(-2.89,4.62),(-3.25,4.38),(-3.51,4.5),(-3.84,4.47),(-3.99,4.5)],
 [(-4.6,4.28),(-4.47,4.38),(-4.31,4.21),(-4.5,4.19)],
 [(-4.28,4.13),(-4.04,4.27),(-3.99,3.98),(-4.09,3.87),(-4.24,3.98)],
 [(-4.96,4.22),(-4.88,4.27),(-4.82,4.19),(-4.9,4.15)],
 [(-5.05,4.62),(-4.91,4.7),(-4.89,4.62),(-4.92,4.58)],
 [(-2.68,6.47),(-2.59,6.56),(-2.55,6.47),(-2.63,6.41)],
 [(-2.97,6.12),(-2.88,6.19),(-2.79,6.04),(-2.89,5.96)],
 [(-.07,6.29),(.02,6.37),(.09,6.31),(.02,6.19)],
 [(1.05,6.19),(1.15,6.24),(1.18,6.18),(1.1,6.15)],
]
PDR_L3 = [
 [(-2.85,5.17),(-2.74,5.34),(-2.61,5.32),(-2.55,5.19),(-2.61,5.05),(-2.74,5.02)],
 [(-2.4,5.45),(-2.31,5.57),(-2.13,5.66),(-1.95,5.87),(-1.78,6.12),(-1.72,6.27),(-1.6,6.42),(-1.46,6.44),(-1.27,6.31),(-1.39,6.21),(-1.62,6.06),(-1.77,5.87),(-1.95,5.6),(-2.15,5.45),(-2.2,5.35),(-2.33,5.33)],
]
PDR_LABELS = [('0.10',-4.76,5.87,50),('1.00',-4.73,5.78,30),('1.00',-4.47,5.52,0),('10.00',-3.69,4.56,-3),('40.00',-2.13,5.81,0),
 ('0.10',-.95,7.13,0),('1.00',-.9,7.02,0),('10.00',-.61,6.61,0),('0.10',-.08,5.57,25),('1.00',.27,5.38,-35)]

# ---------- Ionized gas contours ----------
ION_L0 = [
 [(-5.05,2.94),(-4.76,3.12),(-4.58,3.32),(-4.24,3.35),(-3.91,3.4),(-3.81,3.49),(-3.61,3.86),(-3.46,3.95),(-3.22,4.01),(-3.21,4.19),(-3.07,4.53),(-2.97,4.62),(-2.71,4.74),(-2.59,4.9),(-2.33,4.93),(-2.05,5.14),(-1.95,5.23),(-1.78,5.41),(-1.67,5.57),(-1.52,5.64),(-1.29,5.68),(-1.13,5.57),(-1.06,5.41),(-1.16,5.2),(-1.0,5.05),(-.88,5.05),(-.7,5.13),(-.6,5.14),(-.39,5.35),(-.24,5.4),(-.11,5.32),(.02,5.13),(.14,5.32),(.24,5.41),(.35,5.6),(.47,5.67),(.65,5.64),(.86,5.75),(1.06,5.88),(1.24,5.89),(1.42,5.71),(1.43,5.51),(1.21,5.29),(.93,5.05),(.86,4.94),(.65,4.78),(.53,4.59),(.27,4.25),(.02,4.1),(-.04,4.07),(-.27,3.73),(-.7,3.52),(-.7,3.34),(-.79,3.2),(-1.0,3.13),(-1.31,3.18),(-1.46,3.03),(-1.78,2.88),(-2,2.7),(-2.26,2.39),(-2.71,2.16),(-2.91,2.02),(-2.94,1.9),(-5.05,1.9)],
]
ION_L1 = [
 [(-5.05,2.88),(-4.76,3.03),(-4.58,3.21),(-4.24,3.26),(-3.89,3.32),(-3.78,3.4),(-3.61,3.76),(-3.46,3.87),(-3.16,3.89),(-3.15,4.04),(-3.05,4.22),(-2.97,4.5),(-2.61,4.53),(-2.61,4.71),(-2.33,4.83),(-1.97,5.05),(-1.95,5.14),(-1.78,5.32),(-1.62,5.49),(-1.52,5.55),(-1.29,5.58),(-1.17,5.48),(-1.17,5.38),(-1.29,5.2),(-1.27,5.13),(-1.13,5.08),(-.98,4.83),(-.88,4.99),(-.6,5.0),(-.39,5.23),(-.24,5.29),(-.14,5.26),(-.1,5.05),(.13,5.08),(.13,5.21),(.27,5.41),(.42,5.57),(.65,5.54),(.86,5.66),(1.06,5.78),(1.27,5.78),(1.35,5.6),(1.32,5.46),(1.04,5.23),(.91,5.14),(.83,4.96),(.65,4.88),(.53,4.71),(.27,4.34),(.02,4.19),(-.27,3.86),(-.7,3.61),(-.8,3.55),(-.8,3.28),(-1.0,3.23),(-1.36,3.24),(-1.46,3.12),(-1.77,3.0),(-1.92,2.93),(-2.03,2.83),(-2.1,2.91),(-2.14,3.05),(-2.2,2.79),(-2.33,2.79),(-2.28,2.97),(-2.36,3.01),(-2.5,2.91),(-2.43,2.72),(-2.36,2.51),(-2.43,2.39),(-2.89,2.19),(-2.96,2.27),(-3.0,2.42),(-2.98,1.9),(-3.89,1.9),(-3.96,2.11),(-4.14,2.08),(-4.3,2.14),(-4.45,1.9),(-5.05,1.9)],
]
ION_HOLES = [
 [(-2.08,4.47),(-1.95,4.54),(-1.78,4.6),(-1.62,4.71),(-1.46,4.8),(-1.38,4.71),(-1.54,4.59),(-1.77,4.47),(-1.88,4.19),(-2.0,4.25)],
 [(-.42,4.77),(-.26,4.89),(-.22,4.77),(-.32,4.59)],
 [(-1.12,4.42),(-1.0,4.45),(-.93,4.38),(-1.04,4.33)],
 [(-3.39,2.42),(-3.3,2.49),(-3.36,2.39)],
 [(-3.19,2.56),(-3.13,2.58),(-3.12,2.54),(-3.17,2.52)],
]
ION_WHITE = [[(-1.96,4.45),(-1.85,4.53),(-1.81,4.44)]]
ION_L2 = [
 [(-5.05,2.63),(-4.83,2.72),(-4.42,2.69),(-4.25,2.71),(-4.22,2.79),(-4.28,2.85),(-4.5,2.85),(-4.58,2.97),(-4.53,3.07),(-4.14,3.03),(-3.99,3.0),(-3.85,2.88),(-3.81,2.79),(-3.76,2.85),(-3.84,3.0),(-3.81,3.15),(-3.61,3.21),(-3.5,3.15),(-3.36,3.43),(-3.4,3.61),(-3.35,3.73),(-3.22,3.73),(-3.15,3.52),(-2.94,3.55),(-2.71,3.7),(-2.46,3.89),(-2.26,3.95),(-2,4.1),(-1.78,4.23),(-1.48,4.49),(-1.41,4.49),(-1.2,4.22),(-1.18,4.09),(-1.0,4.19),(-.75,4.38),(-.55,4.57),(-.46,4.44),(-.51,4.31),(-.47,4.19),(-.3,4.22),(-.28,4.11),(-.49,3.92),(-.7,3.86),(-.9,3.67),(-1.23,3.49),(-1.49,3.43),(-1.52,3.24),(-1.59,3.26),(-1.62,3.46),(-1.46,3.67),(-1.53,3.73),(-1.69,3.67),(-1.77,3.55),(-1.89,3.58),(-1.86,3.21),(-1.95,3.21),(-2.23,3.21),(-2.46,3.09),(-2.61,2.94),(-2.97,2.88),(-3.07,2.88),(-3.22,2.72),(-3.53,2.66),(-3.66,2.48),(-3.99,2.33),(-4.14,2.27),(-4.35,2.45),(-4.55,2.51),(-4.78,2.57),(-5.05,2.52)],
 [(-5.05,2.27),(-4.91,2.27),(-4.84,2.14),(-4.9,2.05),(-5.05,2.02)],
 [(-2.97,3.86),(-2.89,3.95),(-2.79,3.89),(-2.89,3.8),(-2.96,3.8)],
 [(-2.33,4.65),(-2.23,4.66),(-2.23,4.63),(-2.32,4.63)],
 [(-1.5,5.34),(-1.46,5.38),(-1.43,5.34),(-1.46,5.29)],
 [(.3,5.14),(.4,5.23),(.5,5.22),(.67,5.05),(.53,5.03),(.37,5.07)],
 [(.08,4.71),(.17,4.75),(.24,4.71),(.16,4.67)],
 [(.81,5.41),(.88,5.52),(1.15,5.62),(1.18,5.56),(1.01,5.41),(.88,5.33)],
]
ION_L3 = [
 [(-2.9,3.37),(-2.77,3.49),(-2.43,3.55),(-2.28,3.72),(-2.05,3.92),(-1.87,4.07),(-1.77,4.13),(-1.64,4.25),(-1.53,4.33),(-1.44,4.24),(-1.54,4.09),(-1.69,3.92),(-1.77,3.83),(-2.08,3.55),(-2.26,3.42),(-2.46,3.35),(-2.61,3.21),(-2.77,3.15),(-2.87,3.26)],
 [(-1.24,3.81),(-1.11,3.95),(-.9,4.05),(-.85,3.98),(-1.0,3.79),(-1.18,3.72)],
 [(-.86,4.11),(-.76,4.19),(-.7,4.14),(-.75,4.07),(-.83,4.05)],
]
ION_L4 = [
 [(-2.28,3.64),(-2.16,3.75),(-2.07,3.75),(-2.13,3.61),(-2.24,3.56)],
 [(-2.04,3.86),(-1.92,4.01),(-1.78,4.07),(-1.78,3.86),(-1.95,3.78)],
]
ION_LABELS = [('0.10',-4.75,3.15,50),('1.00',-4.73,2.97,35),('10.00',-4.6,2.72,0),('40.00',-2.59,3.56,0),('10.00',-2.08,3.34,0),
 ('0.10',-.86,5.14,15),('1.00',-1.0,4.83,0),('1.00',-1.66,4.53,0),('10.00',-1.58,4.47,0),('0.10',-.16,4.08,50),('1.00',-.16,4.0,50)]

# ---------- legend and titles ----------
TITLES = ['Total  gas', 'Molecular  gas', 'PDRs', 'Ionized  gas']
LEGEND_TEXTS = [r'$\Sigma_{[CII]}$  =  (1.25$\pm$3.6)  $\times$  10$^{7}$  $\Sigma_{SFR}$$^{(0.60\pm0.02)}$',
 'Local  dwarf  galaxies  [D14]  (cyan  crosses)',
 'Local  spiral  galaxies  [H15]  (magenta  contours)',
 'M31  [K15]  (green  dots)']
YLABEL = r'$\Sigma_{[CII]}$  [L$_{\odot}$  kpc$^{-2}$]'
XLABEL = r'$\Sigma_{SFR}$  [M$_{\odot}$  yr$^{-1}$  kpc$^{-2}$]'


def spline(poly, n=7):
    """Closed centripetal Catmull-Rom through the read-off vertices."""
    P = np.array(poly, float)
    S = P * np.array([3.0, 1.0])
    N = len(S)
    if N < 4:
        return P[:, 0], P[:, 1]
    out = []
    for i in range(N):
        p0, p1, p2, p3 = S[i-1], S[i], S[(i+1) % N], S[(i+2) % N]
        t0 = 0.0
        t1 = t0 + max(np.linalg.norm(p1-p0), 1e-6)**0.5
        t2 = t1 + max(np.linalg.norm(p2-p1), 1e-6)**0.5
        t3 = t2 + max(np.linalg.norm(p3-p2), 1e-6)**0.5
        t = np.linspace(t1, t2, n, endpoint=False)[:, None]
        A1 = (t1-t)/(t1-t0)*p0 + (t-t0)/(t1-t0)*p1
        A2 = (t2-t)/(t2-t1)*p1 + (t-t1)/(t2-t1)*p2
        A3 = (t3-t)/(t3-t2)*p2 + (t-t2)/(t3-t2)*p3
        B1 = (t2-t)/(t2-t0)*A1 + (t-t0)/(t2-t0)*A2
        B2 = (t3-t)/(t3-t1)*A2 + (t-t1)/(t3-t1)*A3
        out.append((t2-t)/(t2-t1)*B1 + (t-t1)/(t2-t1)*B2)
    C = np.vstack(out) / np.array([3.0, 1.0])
    return C[:, 0], C[:, 1]


def paint(ax, polys, color, z):
    for poly in polys:
        x, y = spline(poly)
        ax.fill(10**x, 10**y, facecolor=color, edgecolor='black', lw=1.1, zorder=z, joinstyle='round')


def add_labels(ax, labels):
    for txt, lx, ly, rot in labels:
        ax.text(10**lx, 10**ly, txt, fontsize=14.5, rotation=rot, ha='center', va='center', zorder=6,
                color='#111111', fontweight='normal')


def fit_line(ax):
    lx = np.array(XLIM_LOG, float)
    ax.plot(10**lx, 10**(FIT_NORM_LOG + FIT_SLOPE*lx), color='black', lw=2.6, zorder=7, solid_capstyle='butt')


W, H = 1279, 1595
fig = plt.figure(figsize=(W/100, H/100), dpi=100)
LEFT, RIGHT = 124, 1244
EDGES = [2, 378, 755, 1131, 1508]
axes = []
for i in range(4):
    ax = fig.add_axes([LEFT/W, 1-EDGES[i+1]/H, (RIGHT-LEFT)/W, (EDGES[i+1]-EDGES[i])/H])
    ax.set_xscale('log'); ax.set_yscale('log')
    ax.set_xlim(10.0**XLIM_LOG[0], 10.0**XLIM_LOG[1])
    ax.set_ylim(10.0**YLIM_LOG[0], 10.0**YLIM_LOG[1])
    ax.set_xticks([10.0**v for v in X_DECADES])
    ax.minorticks_off()
    ax.set_yticks([10.0**v for v in Y_DECADES])
    ax.set_yticklabels(['$10^{%d}$' % v for v in Y_DECADES], fontsize=18)
    last = i == 3
    ax.tick_params(axis='y', which='major', direction='in', length=16, width=1.3, left=True, right=not last, pad=5)
    ax.tick_params(axis='x', which='major', direction='in', length=6, width=1.1, top=not last, bottom=True, pad=11, labelbottom=last)
    ax.tick_params(which='minor', left=False, right=False, top=False, bottom=False)
    if last:
        ax.set_xticklabels(['$10^{%d}$' % v for v in X_DECADES], fontsize=18)
    for s in ['left', 'bottom']:
        ax.spines[s].set_linewidth(1.5)
    ax.spines['top'].set_linewidth(1.0 if i else 1.5)
    ax.spines['right'].set_linewidth(0.8 if last else 1.3)
    ax.annotate('$10^{2}$', xy=(0, 0), xycoords='axes fraction', xytext=(-5.5, -3.0), textcoords='offset points',
                ha='right', va='bottom', fontsize=18)
    ax.text(0.0415, 0.885, TITLES[i], transform=ax.transAxes, fontsize=31.5, ha='left', va='center', zorder=10)
    axes.append(ax)
    yc = 1-(EDGES[i]+EDGES[i+1])/2/H
    fig.text(31/W, yc, YLABEL, rotation=90, fontsize=21, ha='center', va='center')

fig.text(684/W, 1-1577/H, XLABEL, fontsize=20.5, ha='center', va='center')

# Panel 1: Total gas
ax = axes[0]
C = TOTAL_COLORS
paint(ax, TOTAL_L0, C[0], 2)
paint(ax, TOTAL_WHITE, 'white', 2.1)
paint(ax, TOTAL_L1, C[1], 3)
paint(ax, TOTAL_HOLES, C[0], 3.5)
paint(ax, TOTAL_L2, C[2], 4)
add_labels(ax, TOTAL_LABELS)
for band in (GREEN_BAND, GREEN_BAND2):
    gx, gy = spline(band)
    ax.fill(10**gx, 10**gy, color='#00ff00', lw=0, zorder=5)
g = np.array(GREEN_DOTS)
ax.plot(10**g[:, 0], 10**g[:, 1], ls='none', marker='s', ms=1.9, color='#00ff00', mew=0, zorder=5)
lx = np.array(XLIM_LOG, float)
fit_line(ax)
ax.plot(10**lx, 10**(DWARF[0]+DWARF[1]*(lx+5)), color='k', lw=2.3, dashes=(6.0, 3.8), zorder=7)
ax.plot(10**lx, 10**(SPIRAL[0]+SPIRAL[1]*(lx+5)), color='k', lw=2.0, dashes=(1.0, 2.2), zorder=7)
ax.plot(10**lx, 10**(M31[0]+M31[1]*(lx+5)), color='k', lw=2.3, dashes=(3.8, 2.2, 1.1, 2.2), zorder=7)
for poly in MAGENTA_SETS:
    p = np.array(poly + poly[:1])
    ax.plot(10**p[:, 0], 10**p[:, 1], color='#ff14e6', lw=1.8, zorder=8)
cyan_sets = CYAN_COLUMNS + CYAN_COLUMNS2
cx = [c[0] for c in cyan_sets for _ in c[1]] + [p[0] for p in CYAN_EXTRA]
cy = [v for c in cyan_sets for v in c[1]] + [p[1] for p in CYAN_EXTRA]
ax.plot(10**np.array(cx), 10**np.array(cy), ls='none', marker='x', ms=6, mew=1.1, color='#00ffff', zorder=9)
ax.plot(10**RED_CROSS[0], 10**RED_CROSS[1], marker='x', ms=18, mew=3.6, color='#ff0000', zorder=11)
LEG_Y = [0.319, 0.242, 0.165, 0.090]
LEG_STYLES = [dict(lw=2.6), dict(lw=2.3, dashes=(6.0, 3.8)), dict(lw=2.0, dashes=(1.0, 2.2)), dict(lw=2.3, dashes=(3.8, 2.2, 1.1, 2.2))]
for yy, st, tx in zip(LEG_Y, LEG_STYLES, LEGEND_TEXTS):
    ax.plot([0.386, 0.458], [yy, yy], transform=ax.transAxes, color='k', zorder=12, **st)
    ax.text(0.480, yy-0.006, tx, transform=ax.transAxes, fontsize=17.8, ha='left', va='center', zorder=12)

# Panel 2: Molecular gas
ax = axes[1]
C = MOL_COLORS
paint(ax, MOL_L0, C[0], 2)
paint(ax, MOL_WHITE, 'white', 2.2)
paint(ax, MOL_L1, C[1], 3)
paint(ax, MOL_HOLES, C[0], 3.5)
paint(ax, MOL_L2, C[2], 4)
add_labels(ax, MOL_LABELS)
fit_line(ax)

# Panel 3: PDRs
ax = axes[2]
C = PDR_COLORS
paint(ax, PDR_L0, C[0], 2)
paint(ax, PDR_L1, C[1], 3)
paint(ax, PDR_HOLES, C[0], 3.5)
paint(ax, PDR_L2, C[2], 4)
paint(ax, PDR_L3, C[3], 4.5)
add_labels(ax, PDR_LABELS)
fit_line(ax)

# Panel 4: Ionized gas
ax = axes[3]
C = ION_COLORS
paint(ax, ION_L0, C[0], 2)
paint(ax, ION_L1, C[1], 3)
paint(ax, ION_HOLES, C[0], 3.5)
paint(ax, ION_WHITE, 'white', 3.6)
paint(ax, ION_L2, C[2], 4)
paint(ax, ION_L3, C[3], 4.5)
paint(ax, ION_L4, C[4], 4.7)
add_labels(ax, ION_LABELS)
fit_line(ax)

fig.savefig('out.png', dpi=100, facecolor='white')
